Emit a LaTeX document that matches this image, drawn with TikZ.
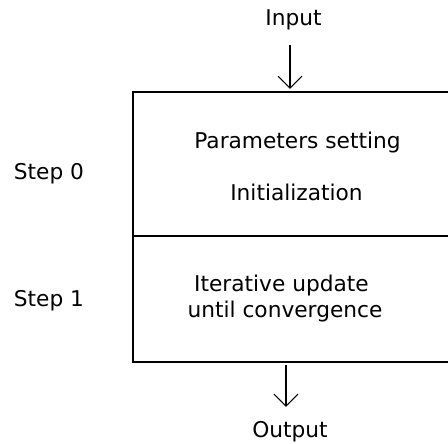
\documentclass[tikz,border=0pt]{standalone}
\usepackage{fontspec}
\setmainfont{DejaVu Sans}
\usetikzlibrary{arrows.meta}
\tikzset{
  lbl/.style={anchor=base, inner sep=0pt, font=\fontsize{21.7}{26}\selectfont, align=center},
  boxline/.style={line width=1.7pt},
  arr/.style={line width=1.1pt, -{Straight Barb[length=12pt,width=24pt]}}
}
\begin{document}
\begin{tikzpicture}[x=1pt,y=1pt]
\useasboundingbox (0,0) rectangle (448,444);
% box (y measured upward: y = 444 - pixel row)
\draw[boxline] (448,352) -- (133,352) -- (133,82) -- (448,82);
\draw[boxline] (133,208) -- (448,208);
% texts
\node[lbl] (in) at (293.5,418) {Input};
\node[lbl] (ps) at (297.5,295) {Parameters setting};
\node[lbl] (init) at (296.5,243) {Initialization};
\node[lbl] (s0) at (49,264) {Step 0};
\node[lbl] (s1) at (49,137) {Step 1};
\node[lbl] (it1) at (281.5,152) {Iterative update};
\node[lbl] (it2) at (285,126) {until convergence};
\node[lbl] (out) at (290,6) {Output};
% arrows
\coordinate (a1s) at (290,399);
\coordinate (a1e) at (290,355);
\coordinate (a2s) at (286,79);
\coordinate (a2e) at (286,37);
\draw[arr] (a1s) -- (a1e);
\draw[arr] (a2s) -- (a2e);
\end{tikzpicture}
\end{document}
